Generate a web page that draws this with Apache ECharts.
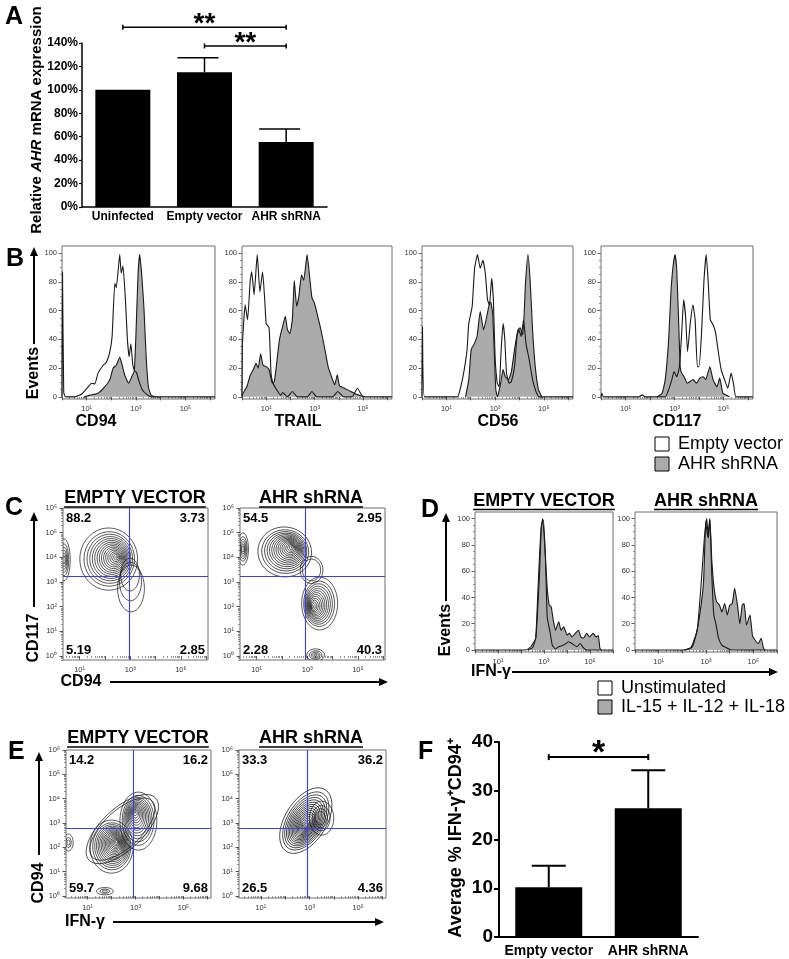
<!DOCTYPE html>
<html><head><meta charset="utf-8">
<script src="https://cdn.jsdelivr.net/npm/echarts@6.0.0/dist/echarts.min.js"></script>
<style>html,body{margin:0;padding:0;background:#fff}#c{width:789px;height:959px}</style>
</head><body><div id="c"></div>
<script>
// ================= DATA =================
// Panel A
const aCategories = ['Uninfected', 'Empty vector', 'AHR shRNA'];
const aValues = [100, 115, 55.5];
const aErrorTop = [null, 127.5, 66.5];
const aTickValues = [0, 20, 40, 60, 80, 100, 120, 140];
const aSig = [[0, 2, 153.5, '**'], [1, 2, 137.5, '**']];

// Panel B (x = log10 fluorescence, y = % of max)
const bMarkers = ['CD94', 'TRAIL', 'CD56', 'CD117'];
const b1Empty = [[0,0],[0.02,87],[0.07,3],[0.15,0],[0.5,0],[0.8,2],[1.06,7],[1.2,9.5],[1.33,9],[1.46,16.5],[1.67,22],[1.8,24],[1.94,31.5],[2.03,42],[2.14,79],[2.2,76],[2.34,99],[2.4,86],[2.47,91],[2.57,67.5],[2.65,40],[2.72,28],[2.79,37],[2.87,22],[2.95,18],[3.02,17],[3.1,12],[3.25,5],[3.45,1.5],[3.6,0],[6.2,0]];
const b1AHR = [[0.9,0],[1.2,1.4],[1.46,2.5],[1.73,7],[1.94,12],[2.07,20],[2.2,22],[2.34,27.6],[2.4,24.6],[2.54,15.3],[2.7,9.5],[2.84,14.6],[2.93,18],[3.0,45],[3.08,85],[3.15,99],[3.23,85],[3.32,62],[3.41,28],[3.5,7],[3.6,1.4],[3.75,0]];
const b2Empty = [[0,0],[0.02,37],[0.13,64],[0.23,53.6],[0.34,81],[0.4,87],[0.5,71],[0.63,99],[0.74,73],[0.85,87],[0.94,67.5],[1.0,51],[1.12,48],[1.2,16.5],[1.28,9.5],[1.48,3.7],[1.6,1],[1.68,3],[1.88,0],[2.08,3.7],[2.28,0],[2.7,0],[2.89,3.7],[3.09,0],[3.75,0],[3.96,3.7],[4.2,0],[4.55,0],[4.77,6],[4.97,0.7],[5.1,0],[6.2,0]];
const b2AHR = [[0,0],[0.04,2.5],[0.2,7],[0.34,15],[0.47,19],[0.58,23.4],[0.67,20],[0.77,30],[0.87,22],[1.0,21],[1.12,19],[1.25,9.5],[1.34,10.7],[1.55,40],[1.68,49],[1.79,56],[1.88,46.6],[1.98,44],[2.08,53.6],[2.16,81],[2.26,63],[2.35,70],[2.46,85],[2.55,81],[2.69,99],[2.78,86],[2.89,69],[3.0,65],[3.13,56],[3.23,49],[3.32,42],[3.43,32.7],[3.56,21],[3.7,14],[3.83,8.4],[3.94,15.3],[4.03,7.7],[4.23,6],[4.5,3.7],[4.7,2],[4.9,0.7],[5.04,0]];
const b3Empty = [[0,0],[0.02,49],[0.1,0],[1.45,0],[1.59,7],[1.72,17.6],[1.85,32.7],[1.92,51],[2.06,63],[2.16,89.5],[2.28,99],[2.39,89.5],[2.5,95],[2.6,86],[2.69,67.5],[2.77,64],[2.86,82.6],[2.93,67.5],[3.0,28],[3.09,9.5],[3.17,7],[3.25,33],[3.33,51],[3.4,40],[3.47,16.5],[3.58,9.5],[3.67,10.7],[3.8,21],[3.9,42],[3.98,46.6],[4.07,42],[4.17,53.6],[4.27,37],[4.4,26],[4.54,12],[4.68,3.7],[4.81,0],[6.2,0]];
const b3AHR = [[1.79,0],[1.92,12],[2.02,33],[2.12,36],[2.26,42],[2.39,59.4],[2.53,46.6],[2.66,56],[2.77,65],[2.82,66],[2.9,58],[2.97,30],[3.03,5],[3.1,0],[3.23,9.5],[3.33,19],[3.42,14],[3.55,12],[3.67,17.6],[3.8,33],[3.94,46.6],[4.03,48],[4.14,43],[4.25,79],[4.35,99],[4.44,81],[4.54,46.6],[4.65,21],[4.78,5],[4.92,0]];
const b4Empty = [[0,0],[0.03,2.5],[0.1,0],[1.55,0],[1.68,1.4],[1.8,0],[2.62,0],[2.76,5],[2.89,12],[2.98,17.6],[3.09,14],[3.2,21],[3.29,44],[3.37,67.5],[3.45,56],[3.53,31.5],[3.64,51],[3.75,64],[3.84,53.6],[3.93,21],[4.0,21],[4.1,44],[4.2,81],[4.29,99],[4.37,81],[4.46,53.6],[4.58,50],[4.68,44],[4.77,33],[4.9,19],[5.04,12],[5.17,6],[5.31,16.5],[5.4,9.5],[5.51,0],[6.2,0]];
const b4AHR = [[2.28,0],[2.49,2.5],[2.62,12],[2.76,40],[2.85,72],[2.93,89.5],[3.02,99],[3.09,88],[3.16,56],[3.23,21],[3.29,16.5],[3.39,14],[3.52,9.5],[3.63,10.7],[3.76,12],[3.9,9.5],[4.03,13],[4.17,14],[4.27,12],[4.44,21],[4.57,12],[4.73,7],[4.84,13],[4.97,2.5],[5.08,1.4],[5.24,0]];

// Panel C / E contour populations: [cx, cy, rx, ry, coreX, coreY, rings, tiltDeg, coreScale] (log10 units)
const c1Blobs = [[0.38,3.9,0.25,0.85,0.38,3.9,6,0,0.2],[2.15,3.93,1.14,1.26,2.47,4.01,16,0,0.04],[3.03,2.74,0.53,0.95,2.99,3.3,3,0,0.7]];
const c2Blobs = [[0.46,4.34,0.22,0.65,0.46,4.34,6,0,0.2],[2.11,4.22,1.06,1.01,2.41,4.41,16,-8,0.04],[3.17,3.49,0.45,0.55,3.17,3.49,2,0,0.8],[3.49,2.13,0.71,1.07,3.22,2.0,14,0,0.05],[3.33,0.04,0.35,0.25,3.33,0.04,5,0,0.15]];
const cGates = [[2.96, 3.24], [2.94, 3.24]];
const cQuadrants = [['88.2','3.73','5.19','2.85'], ['54.5','2.95','2.28','40.3']];
const e1Blobs = [[2.45,2.75,1.9,0.85,2.45,2.75,2,43,0.9],[2.0,2.03,0.9,1.09,2.21,2.23,18,0,0.05],[3.12,3.08,0.77,1.19,2.98,3.46,14,0,0.05],[0.2,2.2,0.2,0.35,0.2,2.2,3,0,0.3],[1.72,0.2,0.35,0.15,1.72,0.2,3,0,0.3]];
const e2Blobs = [[2.85,3.1,1.5,0.85,2.82,2.85,18,58,0.04],[3.5,3.2,0.5,0.7,3.45,3.2,4,0,0.4]];
const eGates = [[2.89, 2.79], [2.9, 2.79]];
const eQuadrants = [['14.2','16.2','59.7','9.68'], ['33.3','36.2','26.5','4.36']];
const groupTitles = ['EMPTY VECTOR', 'AHR shRNA'];

// Panel D
const d1Unstim = [[0,0],[2.21,0],[2.43,2.5],[2.64,9],[2.79,52],[2.89,95],[2.97,99],[3.06,72],[3.14,25],[3.26,14],[3.36,3.8],[3.5,0.8],[3.64,2.5],[3.86,3.8],[4.07,6.3],[4.21,5],[4.43,2.5],[4.57,5],[4.71,1.8],[4.86,0],[6,0]];
const d1Stim = [[2.29,0],[2.5,1.8],[2.64,9],[2.74,47],[2.86,90],[2.94,100],[3.03,80],[3.14,47],[3.23,34],[3.31,33],[3.4,23],[3.5,15],[3.64,21.5],[3.74,15],[3.86,17.7],[4.0,11.4],[4.11,12.7],[4.21,10],[4.36,12.7],[4.5,15],[4.6,10],[4.71,9],[4.86,12.7],[4.97,10],[5.14,12.7],[5.26,10],[5.36,11],[5.43,1.3],[5.5,0]];
const d2Unstim = [[0,0],[2.14,0],[2.43,2.5],[2.64,16.5],[2.81,54],[2.93,85],[3.03,100],[3.1,85],[3.17,99],[3.24,59.5],[3.33,26.6],[3.43,19],[3.53,9],[3.67,3.8],[3.86,1.8],[4.07,0],[6,0]];
const d2Stim = [[2.07,0],[2.36,1.8],[2.61,14],[2.79,34],[2.9,53],[2.99,97.5],[3.07,86],[3.16,100],[3.24,70],[3.33,49],[3.44,37],[3.57,34],[3.67,29],[3.79,35.4],[3.9,26.6],[4.0,34],[4.11,35.4],[4.21,47],[4.33,34],[4.43,20],[4.53,34],[4.61,35.4],[4.71,19],[4.86,26.6],[4.96,11.4],[5.07,7.6],[5.21,5],[5.33,9],[5.43,1.3],[5.5,0]];

// Panel F
const fCategories = ['Empty vector', 'AHR shRNA'];
const fValues = [10.2, 26.4];
const fErrorTop = [14.6, 34.2];
const fTickValues = [0, 10, 20, 30, 40];
const fSig = [[0, 1, 36.9, '*']];

// Shared tick label sets
const histTickValues = [0, 20, 40, 60, 80, 100];
const logLabelDecadesX = [1, 3, 5];
const logLabelDecadesY = [0, 1, 2, 3, 4, 5, 6];
const legendB = ['Empty vector', 'AHR shRNA'];
const legendD = ['Unstimulated', 'IL-15 + IL-12 + IL-18'];

// ================= LAYOUT / STYLE =================
const FONT = "'Liberation Sans', Arial, Helvetica, sans-serif";
const SUP = ['⁰','¹','²','³','⁴','⁵','⁶'];
const FILL = '#ababab';
const LINE = '#1a1a1a';
const GATE = '#3c3cf0';
const L = {
  A: {left:82, top:43, width:245, height:164},
  B: [{left:62,top:246,width:153,height:153},{left:242,top:246,width:150,height:153},{left:422,top:246,width:151,height:153},{left:601,top:246,width:152,height:153}],
  C: [{left:63,top:508,width:145,height:152},{left:240,top:508,width:145,height:152}],
  D: [{left:475,top:512,width:138,height:140},{left:635,top:512,width:142,height:140}],
  E: [{left:66,top:750,width:145,height:148},{left:239,top:750,width:147,height:148}],
  F: {left:499, top:742, width:199, height:195}
};
const R = {B:{x:[0,6.2],y:[-1.5,105]}, C:{x:[0.345,6.07],y:[-0.16,6.0]}, D:{x:[0,6],y:[-1.5,105]}, E:{x:[0.1,6.15],y:[-0.08,6.0]}};

const grids = [], xAxes = [], yAxes = [], series = [];
function addGrid(r, boxed) {
  grids.push(Object.assign({}, r, {show: !!boxed, borderColor:'#6e6e6e', borderWidth:1, backgroundColor:'transparent', containLabel:false, outerBoundsMode:'none'}));
  return grids.length - 1;
}
function logTicks(min, max) {
  const major = [], minor = [];
  for (let n = Math.floor(min); n <= Math.ceil(max); n++) {
    for (let k = 1; k <= 9; k++) {
      const v = n + Math.log10(k);
      if (v < min - 1e-9 || v > max + 1e-9) continue;
      (k === 1 ? major : minor).push(v);
    }
  }
  return {major, minor};
}
function linTicks(min, max, step) { const a = []; for (let v = Math.ceil(min/step)*step; v <= max + 1e-9; v += step) a.push(+v.toFixed(6)); return a; }
function addAxisPair(list, pos, gi, min, max, majorVals, minorVals, labelVals, fmt, margin) {
  const base = {type:'value', gridIndex:gi, position:pos, min, max, splitLine:{show:false}, axisLine:{show:false}};
  list.push(Object.assign({}, base, {
    axisTick:{show:true, customValues:majorVals, length:3.5, lineStyle:{color:'#555', width:1}},
    axisLabel:{show:true, customValues:labelVals, formatter:fmt, fontSize:7.5, color:'#333', margin:margin, fontFamily:FONT}
  }));
  const idx = list.length - 1;
  list.push(Object.assign({}, base, {
    axisTick:{show:true, customValues:minorVals, length:2, lineStyle:{color:'#777', width:0.8}},
    axisLabel:{show:false}
  }));
  return idx;
}
const supFmt = v => '10' + SUP[Math.round(v)];

function flowHistPanel(rect, rng, filled, open) {
  const gi = addGrid(rect, true);
  const lx = logTicks(rng.x[0], rng.x[1]);
  const xi = addAxisPair(xAxes, 'bottom', gi, rng.x[0], rng.x[1], lx.major, lx.minor, logLabelDecadesX, supFmt, 6);
  const yi = addAxisPair(yAxes, 'left', gi, rng.y[0], rng.y[1], histTickValues, linTicks(0, 100, 5), histTickValues, v => String(v), 5);
  series.push({type:'line', xAxisIndex:xi, yAxisIndex:yi, data:filled, symbol:'none', smooth:0.15, lineStyle:{color:LINE, width:1.1}, areaStyle:{color:FILL, opacity:1}, z:2});
  series.push({type:'line', xAxisIndex:xi, yAxisIndex:yi, data:open, symbol:'none', smooth:0.15, lineStyle:{color:LINE, width:1.1}, z:3});
}
function contourRender(params, api) {
  const cx = api.value(0), cy = api.value(1), rx = api.value(2), ry = api.value(3);
  const ix = api.value(4), iy = api.value(5), n = api.value(6), ang = api.value(7), inner = api.value(8);
  const children = [];
  for (let k = 0; k < n; k++) {
    const t = n > 1 ? k / (n - 1) : 0;
    const s = 1 - (1 - inner) * Math.pow(t, 0.75);
    const c = api.coord([cx + (ix - cx) * t, cy + (iy - cy) * t]);
    const sz = api.size([rx * s, ry * s]);
    children.push({type:'ellipse', x:c[0], y:c[1], rotation:ang * Math.PI / 180,
      shape:{cx:0, cy:0, rx:Math.abs(sz[0]), ry:Math.abs(sz[1])},
      style:{fill:'none', stroke:'#111', lineWidth:0.7}});
  }
  return {type:'group', children};
}
function contourPanel(rect, rng, blobs, gate) {
  const gi = addGrid(rect, true);
  const lx = logTicks(rng.x[0], rng.x[1]);
  const ly = logTicks(rng.y[0], rng.y[1]);
  const xi = addAxisPair(xAxes, 'bottom', gi, rng.x[0], rng.x[1], lx.major, lx.minor, logLabelDecadesX, supFmt, 6);
  const yi = addAxisPair(yAxes, 'left', gi, rng.y[0], rng.y[1], ly.major, ly.minor, logLabelDecadesY, supFmt, 6);
  const gateStyle = {color:GATE, width:1.1, type:'solid'};
  series.push({type:'custom', xAxisIndex:xi, yAxisIndex:yi, clip:true, data:blobs, renderItem:contourRender,
    encode:{x:[0,4], y:[1,5]}, z:2,
    markLine:{silent:true, symbol:['none','none'], label:{show:false}, animation:false, z:5,
      lineStyle:gateStyle, emphasis:{disabled:true},
      data:[{xAxis:gate[0], lineStyle:gateStyle}, {yAxis:gate[1], lineStyle:gateStyle}]}});
}
function errRender(capL, capR, lw) {
  return function (params, api) {
    const i = api.value(0), v = api.value(1), e = api.value(2);
    const p0 = api.coord([i, v]), p1 = api.coord([i, e]);
    return {type:'group', children:[
      {type:'line', shape:{x1:p0[0], y1:p0[1], x2:p1[0], y2:p1[1]}, style:{stroke:'#000', lineWidth:lw}},
      {type:'line', shape:{x1:p1[0] + capL, y1:p1[1], x2:p1[0] + capR, y2:p1[1]}, style:{stroke:'#000', lineWidth:lw}}
    ]};
  };
}

// ---- Panel A ----
const gA = addGrid(L.A, false);
xAxes.push({type:'category', gridIndex:gA, data:aCategories, position:'bottom',
  axisLine:{show:true, lineStyle:{color:'#000', width:1.5}}, axisTick:{show:false},
  axisLabel:{interval:0, fontSize:12, fontWeight:'bold', color:'#000', fontFamily:FONT, margin:4}});
const xA = xAxes.length - 1;
yAxes.push({type:'value', gridIndex:gA, min:0, max:140, interval:20, position:'left',
  splitLine:{show:false}, axisLine:{show:true, lineStyle:{color:'#000', width:1.5}},
  axisTick:{show:true, length:3, lineStyle:{color:'#000', width:1.2}},
  axisLabel:{customValues:aTickValues, formatter:v => v + '%', fontSize:12, fontWeight:'bold', color:'#000', fontFamily:FONT, margin:4}});
const yA = yAxes.length - 1;
series.push({type:'bar', xAxisIndex:xA, yAxisIndex:yA, data:aValues, barWidth:55, itemStyle:{color:'#000'}, z:2});
series.push({type:'custom', xAxisIndex:xA, yAxisIndex:yA, renderItem:errRender(-27, 14, 1.5), z:3,
  data:aCategories.map((c, i) => [i, aValues[i], aErrorTop[i]]).filter(d => d[2] != null)});

// ---- Panel B ----
const bFilled = [b1AHR, b2AHR, b3AHR, b4AHR], bOpen = [b1Empty, b2Empty, b3Empty, b4Empty];
L.B.forEach((r, i) => flowHistPanel(r, R.B, bFilled[i], bOpen[i]));

// ---- Panel C ----
contourPanel(L.C[0], R.C, c1Blobs, cGates[0]);
contourPanel(L.C[1], R.C, c2Blobs, cGates[1]);

// ---- Panel D ----
flowHistPanel(L.D[0], R.D, d1Stim, d1Unstim);
flowHistPanel(L.D[1], R.D, d2Stim, d2Unstim);

// ---- Panel E ----
contourPanel(L.E[0], R.E, e1Blobs, eGates[0]);
contourPanel(L.E[1], R.E, e2Blobs, eGates[1]);

// ---- Panel F ----
const gF = addGrid(L.F, false);
xAxes.push({type:'category', gridIndex:gF, data:fCategories, position:'bottom',
  axisLine:{show:true, lineStyle:{color:'#000', width:2}}, axisTick:{show:false},
  axisLabel:{interval:0, fontSize:14, fontWeight:'bold', color:'#000', fontFamily:FONT, margin:7}});
const xF = xAxes.length - 1;
yAxes.push({type:'value', gridIndex:gF, min:0, max:40, interval:10, position:'left',
  splitLine:{show:false}, axisLine:{show:true, lineStyle:{color:'#000', width:2}},
  axisTick:{show:true, length:5, lineStyle:{color:'#000', width:2}},
  axisLabel:{customValues:fTickValues, fontSize:19, fontWeight:'bold', color:'#000', fontFamily:FONT, margin:6}});
const yF = yAxes.length - 1;
series.push({type:'bar', xAxisIndex:xF, yAxisIndex:yF, data:fValues, barWidth:67, itemStyle:{color:'#000'}, z:2});
series.push({type:'custom', xAxisIndex:xF, yAxisIndex:yF, renderItem:errRender(-17, 17, 2), z:3,
  data:fCategories.map((c, i) => [i, fValues[i], fErrorTop[i]])});

const chart = echarts.init(document.getElementById('c'), null, {renderer:'canvas', width:789, height:959});
chart.setOption({animation:false, backgroundColor:'#fff', textStyle:{fontFamily:FONT}, grid:grids, xAxis:xAxes, yAxis:yAxes, series:series});

// ================= ANNOTATIONS =================
const G = [];
const mctx = document.createElement('canvas').getContext('2d');
function textW(t, font) { mctx.font = font; return mctx.measureText(t).width; }
function txt(t, x, y, font, opts) {
  G.push(Object.assign({type:'text', x, y, silent:true, style:Object.assign({text:t, font:font, fill:'#000', align:'center', verticalAlign:'middle'}, (opts && opts.style) || {})}, (opts && opts.el) || {}));
}
function arrow(x1, y1, x2, y2) {
  const dx = x2 - x1, dy = y2 - y1, len = Math.hypot(dx, dy), ux = dx / len, uy = dy / len, hl = 9, hw = 4;
  const bx = x2 - ux * hl, by = y2 - uy * hl;
  G.push({type:'line', silent:true, shape:{x1, y1, x2:bx, y2:by}, style:{stroke:'#000', lineWidth:2}});
  G.push({type:'polygon', silent:true, shape:{points:[[x2, y2], [bx - uy * hw, by + ux * hw], [bx + uy * hw, by - ux * hw]]}, style:{fill:'#000'}});
}
function title(t, cx, cy) {
  const f = 'bold 18px ' + FONT, w = textW(t, f);
  txt(t, cx, cy, f);
  G.push({type:'line', silent:true, shape:{x1:cx - w / 2, y1:cy + 8.5, x2:cx + w / 2, y2:cy + 8.5}, style:{stroke:'#000', lineWidth:1.5}});
}
function vlabel(t, x, y, font) { txt(t, x, y, font, {el:{rotation:Math.PI / 2}}); }
function legendItem(x, y, fill, label) {
  G.push({type:'rect', silent:true, shape:{x, y, width:14, height:14}, style:{fill, stroke:'#000', lineWidth:1}});
  txt(label, x + 23, y + 7.5, '18px ' + FONT, {style:{align:'left'}});
}
function quadrants(rect, vals) {
  const f = 'bold 13px ' + FONT, l = rect.left + 3, r = rect.left + rect.width - 3, t = rect.top + 10, b = rect.top + rect.height - 10;
  txt(vals[0], l, t, f, {style:{align:'left'}});
  txt(vals[1], r, t, f, {style:{align:'right'}});
  txt(vals[2], l, b, f, {style:{align:'left'}});
  txt(vals[3], r, b, f, {style:{align:'right'}});
}
function sigBrackets(xi, yi, list, lw, starFont, starDy, tickH) {
  list.forEach(s => {
    const p0 = chart.convertToPixel({xAxisIndex:xi, yAxisIndex:yi}, [s[0], s[2]]);
    const p1 = chart.convertToPixel({xAxisIndex:xi, yAxisIndex:yi}, [s[1], s[2]]);
    G.push({type:'line', silent:true, shape:{x1:p0[0], y1:p0[1], x2:p1[0], y2:p1[1]}, style:{stroke:'#000', lineWidth:lw}});
    [p0, p1].forEach(p => G.push({type:'line', silent:true, shape:{x1:p[0], y1:p[1] - tickH, x2:p[0], y2:p[1] + tickH}, style:{stroke:'#000', lineWidth:lw}}));
    txt(s[3], (p0[0] + p1[0]) / 2, p0[1] + starDy, starFont);
  });
}

// Panel letters
const LET = 'bold 25px ' + FONT;
txt('A', 5, 17, LET, {style:{align:'left'}});
txt('B', 6, 259, LET, {style:{align:'left'}});
txt('C', 5, 508, LET, {style:{align:'left'}});
txt('D', 421, 510, LET, {style:{align:'left'}});
txt('E', 8, 752, LET, {style:{align:'left'}});
txt('F', 418, 752, LET, {style:{align:'left'}});

// Panel A y title (rich)
G.push({type:'text', x:37, y:120, rotation:Math.PI / 2, silent:true, style:{
  text:'{n|Relative }{i|AHR}{n| mRNA expression}', align:'center', verticalAlign:'middle',
  rich:{n:{fontSize:15, fontWeight:'bold', fontFamily:FONT, fill:'#000'}, i:{fontSize:15, fontWeight:'bold', fontStyle:'italic', fontFamily:FONT, fill:'#000'}}}});
sigBrackets(xA, yA, aSig, 1.5, 'bold 28px ' + FONT, -3, 2.5);

// Panel B labels
const AX = 'bold 16px ' + FONT;
const bLabelX = [96, 298, 498, 677];
bMarkers.forEach((m, i) => txt(m, bLabelX[i], 422, AX));
vlabel('Events', 34, 373, AX);
arrow(34, 344, 34, 247);
legendItem(655, 437, '#fff', legendB[0]);
legendItem(655, 457, FILL, legendB[1]);

// Panel C
title(groupTitles[0], 135, 498.5);
title(groupTitles[1], 311, 498.5);
quadrants(L.C[0], cQuadrants[0]);
quadrants(L.C[1], cQuadrants[1]);
vlabel('CD117', 34, 638, AX);
arrow(34, 607, 34, 512);
txt('CD94', 81, 682, AX);
arrow(110, 682, 388, 682);

// Panel D
title(groupTitles[0], 544, 501);
title(groupTitles[1], 706, 501);
vlabel('Events', 446, 630, AX);
arrow(446, 601, 446, 513);
txt('IFN-γ', 491, 672, AX);
arrow(512, 672, 778, 672);
legendItem(598, 681, '#fff', legendD[0]);
legendItem(598, 700, FILL, legendD[1]);

// Panel E
title(groupTitles[0], 138, 738.5);
title(groupTitles[1], 311, 738.5);
quadrants(L.E[0], eQuadrants[0]);
quadrants(L.E[1], eQuadrants[1]);
vlabel('CD94', 39, 883, AX);
arrow(39, 855, 39, 752);
txt('IFN-γ', 85, 922, AX);
arrow(113, 922, 384, 922);

// Panel F
vlabel('Average % IFN-γ⁺CD94⁺', 456, 838, 'bold 18px ' + FONT);
sigBrackets(xF, yF, fSig, 2, 'bold 34px ' + FONT, -3, 3);

chart.setOption({graphic:{elements:G}});
</script>
</body></html>
